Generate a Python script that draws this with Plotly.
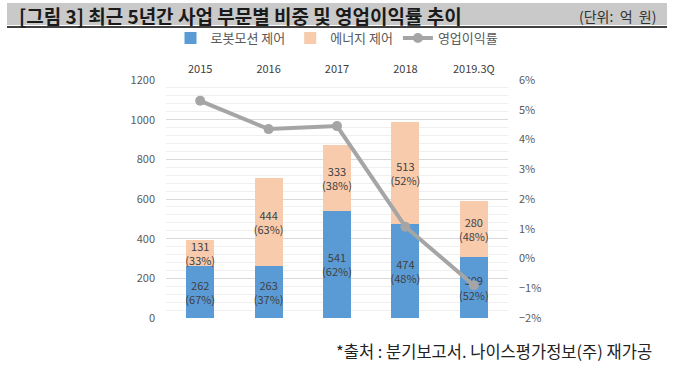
import plotly.graph_objects as go

categories = ["2015", "2016", "2017", "2018", "2019.3Q"]
robot_motion = [262, 263, 541, 474, 309]
robot_share = ["67%", "37%", "62%", "48%", "52%"]
energy = [131, 444, 333, 513, 280]
energy_share = ["33%", "63%", "38%", "52%", "48%"]
op_margin = [5.3, 4.35, 4.45, 1.07, -0.9]

FONT = "Noto Sans CJK KR"
W, H = 675, 372
L, R, T, B = 166, 508, 80, 318


def px(x):
    return (x - L) / (R - L)


def py(y):
    return (B - y) / (B - T)


fig = go.Figure()
fig.add_trace(go.Bar(
    x=categories, y=robot_motion, name="로봇모션 제어",
    marker=dict(color="#5B9BD5", line=dict(width=0)),
    text=[f"{v}<br>({s})" for v, s in zip(robot_motion, robot_share)],
    textposition="inside", insidetextanchor="middle", constraintext="none",
    textangle=0,
    textfont=dict(family=FONT, size=11, color="#404040"),
    hoverinfo="skip",
))
fig.add_trace(go.Bar(
    x=categories, y=energy, name="에너지 제어",
    marker=dict(color="#F8CBAD", line=dict(width=0)),
    text=[f"{v}<br>({s})" for v, s in zip(energy, energy_share)],
    textposition="inside", insidetextanchor="middle", constraintext="none",
    textangle=0,
    textfont=dict(family=FONT, size=11, color="#404040"),
    hoverinfo="skip",
))
fig.add_trace(go.Scatter(
    x=categories, y=op_margin, name="영업이익률", yaxis="y2",
    mode="lines+markers",
    line=dict(color="#A5A5A5", width=4),
    marker=dict(color="#A5A5A5", size=10),
    hoverinfo="skip",
))

fig.update_layout(
    width=W, height=H,
    margin=dict(l=L, r=W - R, t=T, b=H - B, autoexpand=False),
    paper_bgcolor="white", plot_bgcolor="white",
    barmode="stack", bargap=0.59,
    font=dict(family=FONT, size=11, color="#595959"),
    showlegend=True,
    uniformtext=dict(minsize=11, mode="show"),
    legend=dict(
        orientation="h", x=px(337), xanchor="center", y=py(38), yanchor="middle",
        font=dict(family=FONT, size=13, color="#595959"),
        itemwidth=30, tracegroupgap=0, traceorder="normal",
        bgcolor="rgba(0,0,0,0)",
    ),
    xaxis=dict(
        side="top", showline=False, ticks="", showgrid=False, automargin=False,
        tickfont=dict(family=FONT, size=11, color="#404040"),
        ticklabelstandoff=4,
    ),
    yaxis=dict(
        range=[0, 1200], dtick=200, tick0=0, automargin=False,
        showgrid=True, gridcolor="#D9D9D9", gridwidth=1,
        minor=dict(dtick=40, showgrid=True, gridcolor="#EFEFEF", gridwidth=1),
        zeroline=False, showline=False, ticks="",
        tickfont=dict(family=FONT, size=11, color="#595959"),
        ticklabelstandoff=10,
    ),
    yaxis2=dict(
        range=[-2, 6], dtick=1, tick0=0, overlaying="y", side="right",
        automargin=False,
        showgrid=False, zeroline=False, showline=False, ticks="",
        ticksuffix="%",
        tickfont=dict(family=FONT, size=11, color="#595959"),
        ticklabelstandoff=10,
    ),
    shapes=[
        dict(type="rect", xref="paper", yref="paper",
             x0=px(7), x1=px(667), y0=py(25), y1=py(3),
             fillcolor="#C9C9C9", line=dict(width=0), layer="below"),
        dict(type="line", xref="paper", yref="paper",
             x0=px(7), x1=px(667), y0=py(27), y1=py(27),
             line=dict(color="#000000", width=1.5)),
    ],
    annotations=[
        dict(text="<b>[그림 3] 최근 5년간 사업 부문별 비중 및 영업이익률 추이</b>",
             xref="paper", yref="paper", x=px(17), y=py(15),
             xanchor="left", yanchor="middle", showarrow=False,
             font=dict(family=FONT, size=19, color="#1a1a1a")),
        dict(text="(단위:  억  원)",
             xref="paper", yref="paper", x=px(658), y=py(16),
             xanchor="right", yanchor="middle", showarrow=False,
             font=dict(family=FONT, size=14, color="#333333")),
        dict(text="*출처 : 분기보고서. 나이스평가정보(주) 재가공",
             xref="paper", yref="paper", x=px(654), y=py(351),
             xanchor="right", yanchor="middle", showarrow=False,
             font=dict(family=FONT, size=16.5, color="#222222")),
    ],
)

fig.write_html("out.html", config={"displayModeBar": False},
               post_script="document.body.style.margin='0';")
